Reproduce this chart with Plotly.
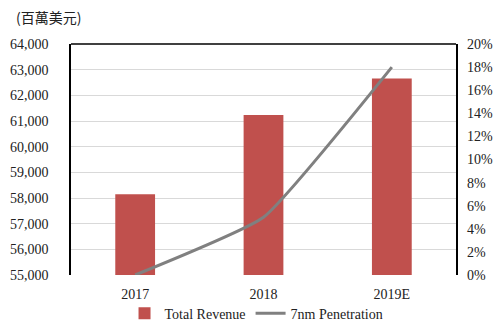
import plotly.graph_objects as go

categories = ["2017", "2018", "2019E"]
revenue = [58150, 61230, 62660]
penetration = [0.0, 0.05, 0.18]
left_ticks = [55000, 56000, 57000, 58000, 59000, 60000, 61000, 62000, 63000, 64000]
right_ticks = [0, 0.02, 0.04, 0.06, 0.08, 0.10, 0.12, 0.14, 0.16, 0.18, 0.20]

serif = "Liberation Serif"
tf = dict(family=serif, size=14, color="#222222")

fig = go.Figure()
fig.add_trace(go.Bar(
    x=categories, y=revenue, name="Total Revenue",
    marker=dict(color="#C0504D", line=dict(width=0)), width=0.31,
))
fig.add_trace(go.Scatter(
    x=categories, y=penetration, name="7nm Penetration", yaxis="y2",
    mode="lines", line=dict(color="#808080", width=3, shape="spline", smoothing=0.4),
))

fig.update_layout(
    width=503, height=325,
    margin=dict(l=71, r=47, t=44, b=50, autoexpand=False),
    paper_bgcolor="white", plot_bgcolor="white",
    font=tf,
    showlegend=True,
    legend=dict(orientation="h", x=0.51, xref="container", xanchor="center",
                y=0.035, yref="container", yanchor="middle",
                bgcolor="rgba(0,0,0,0)", font=tf, traceorder="normal"),
    xaxis=dict(showgrid=False, showline=False, ticks="", tickfont=tf,
               ticklabelstandoff=9, automargin=False),
    yaxis=dict(range=[55000, 64000], tickvals=left_ticks, tickformat=",d",
               showgrid=True, gridcolor="#D9D9D9", gridwidth=1,
               showline=True, linecolor="black", linewidth=1.5, mirror=True,
               ticks="", ticklabelstandoff=18, zeroline=False, tickfont=tf,
               automargin=False),
    yaxis2=dict(range=[0, 0.20], tickvals=right_ticks, tickformat=".0%",
                overlaying="y", side="right", showgrid=False, showline=False,
                ticks="", ticklabelstandoff=10, zeroline=False, tickfont=tf,
                automargin=False),
    shapes=[dict(type="line", xref="paper", yref="paper", x0=0, x1=1, y0=1, y1=1,
                 line=dict(color="black", width=1.5))],
    annotations=[dict(text="(百萬美元)", xref="paper", yref="paper", x=-0.148, y=1.115,
                      xanchor="left", yanchor="middle", showarrow=False,
                      font=dict(family="Noto Sans CJK TC", size=14, color="#222222"))],
)

fig.write_html("out.html")
